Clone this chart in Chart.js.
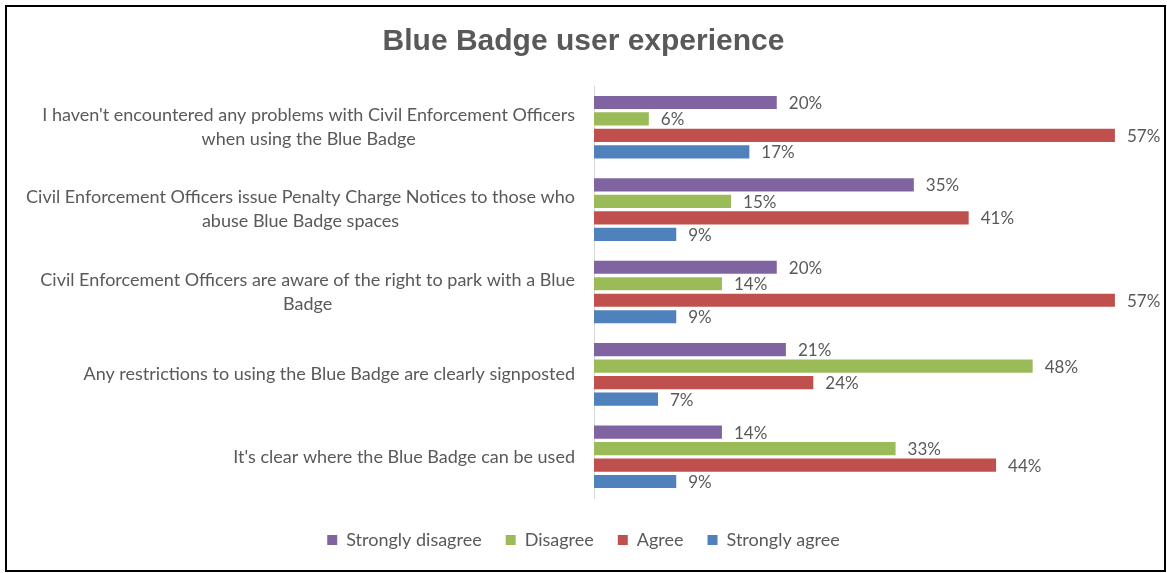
<!DOCTYPE html>
<html>
<head>
<meta charset="utf-8">
<script src="https://cdn.jsdelivr.net/npm/chart.js@4.4.1/dist/chart.umd.min.js"></script>
<style>
  html, body { margin: 0; padding: 0; background: #fff; }
  #wrap { position: absolute; left: 0; top: 0; width: 1167px; height: 573px; }
  #frame { position: absolute; left: 5px; top: 5px; width: 1157px; height: 563px; border: 2px solid #000; pointer-events: none; }
</style>
</head>
<body>
<div id="wrap"><canvas id="c" width="1167" height="573"></canvas></div>
<div id="frame"></div>
<script>
const categories = [
  ["I haven't encountered any problems with Civil Enforcement Officers", "when using the Blue Badge"],
  ["Civil Enforcement Officers issue Penalty Charge Notices to those who", "abuse Blue Badge spaces"],
  ["Civil Enforcement Officers are aware of the right to park with a Blue", "Badge"],
  ["Any restrictions to using the Blue Badge are clearly signposted"],
  ["It's clear where the Blue Badge can be used"]
];
const seriesNames = ["Strongly disagree", "Disagree", "Agree", "Strongly agree"];
const stronglyDisagree = [20, 35, 20, 21, 14];
const disagree = [6, 15, 14, 48, 33];
const agree = [57, 41, 57, 24, 44];
const stronglyAgree = [17, 9, 9, 7, 9];
const seriesColors = ["#8064a2", "#9bbb59", "#c0504d", "#4f81bd"];

const textColor = "#595959";
const labelFont = "18px Lato";
const valueFont = "17px Lato";

const valueLabels = {
  id: "valueLabels",
  afterDatasetsDraw(chart) {
    const ctx = chart.ctx;
    ctx.save();
    ctx.font = valueFont;
    ctx.fillStyle = textColor;
    ctx.textAlign = "left";
    ctx.textBaseline = "middle";
    chart.data.datasets.forEach((ds, i) => {
      const meta = chart.getDatasetMeta(i);
      meta.data.forEach((el, j) => {
        ctx.fillText(ds.data[j] + "%", el.x + 12, el.y + 1);
      });
    });
    ctx.restore();
  }
};

const categoryLabels = {
  id: "categoryLabels",
  afterDraw(chart) {
    const ctx = chart.ctx;
    const y = chart.scales.y;
    const right = 575;
    const lh = 24;
    ctx.save();
    ctx.font = labelFont;
    ctx.fillStyle = textColor;
    ctx.textAlign = "center";
    ctx.textBaseline = "middle";
    categories.forEach((lines, i) => {
      const cy = y.getPixelForValue(i);
      const w = Math.max(...lines.map(l => ctx.measureText(l).width));
      const cx = right - w / 2;
      const y0 = cy - (lines.length - 1) * lh / 2;
      lines.forEach((l, k) => ctx.fillText(l, cx, y0 + k * lh));
    });
    ctx.restore();
  }
};

const datasets = [stronglyDisagree, disagree, agree, stronglyAgree].map((d, i) => ({
  label: seriesNames[i],
  data: d,
  backgroundColor: seriesColors[i],
  borderWidth: 0,
  categoryPercentage: 0.8,
  barPercentage: 0.8
}));

new Chart(document.getElementById("c"), {
  type: "bar",
  data: { labels: categories.map(c => c.join(" ")), datasets },
  options: {
    indexAxis: "y",
    responsive: false,
    animation: false,
    layout: { padding: { left: 0, right: 0, top: 0, bottom: 14 } },
    scales: {
      x: {
        display: true, min: 0, max: 62.7,
        ticks: { display: false },
        grid: { display: false, drawTicks: false },
        border: { display: false },
        afterFit(s) { s.height = 9; }
      },
      y: {
        ticks: { display: false },
        grid: { display: false, drawTicks: false },
        border: { display: true, color: "#d9d9d9", width: 1 },
        afterFit(s) { s.width = 594; }
      }
    },
    plugins: {
      title: {
        display: true,
        text: "Blue Badge user experience",
        color: textColor,
        font: { family: "Liberation Sans", size: 30, weight: "bold" },
        padding: { top: 24, bottom: 26 }
      },
      legend: {
        position: "bottom",
        labels: {
          color: textColor,
          font: { family: "Lato", size: 18 },
          boxWidth: 10,
          boxHeight: 10,
          padding: 24
        }
      },
      tooltip: { enabled: false }
    }
  },
  plugins: [valueLabels, categoryLabels]
});
</script>
</body>
</html>
